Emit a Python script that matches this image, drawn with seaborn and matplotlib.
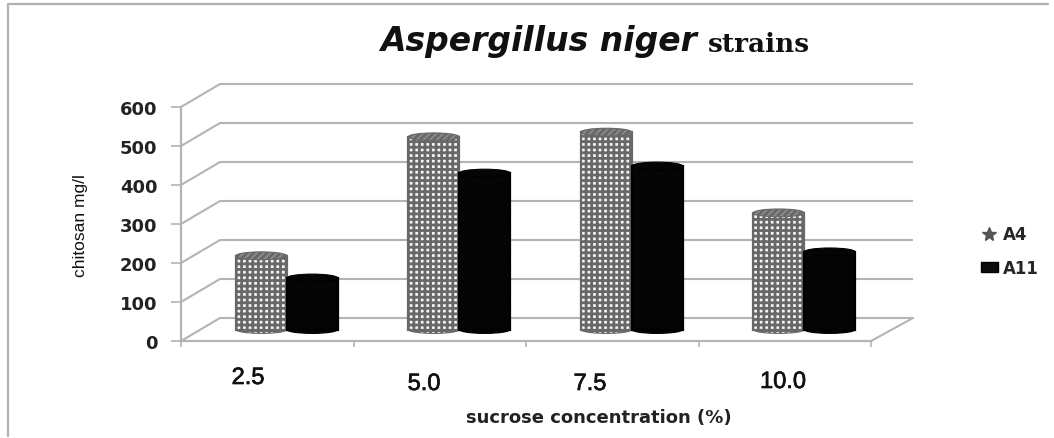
import pandas as pd
import matplotlib
matplotlib.use('Agg')
import matplotlib.pyplot as plt
import matplotlib.patheffects as pe
import seaborn as sns
from matplotlib.lines import Line2D
from matplotlib.patches import Ellipse
from matplotlib.transforms import Affine2D

categories = ['2.5', '5.0', '7.5', '10.0']
a4_values = [189, 494, 506, 299]
a11_values = [132, 401, 419, 199]
y_ticks = [0, 100, 200, 300, 400, 500, 600]

W, H = 1054, 439
# chart box in pixels, front plane
left, right, y0, y600 = 181, 871, 342, 108
depth_x, depth_y = 39, 23
grid_color = '#b4b4b4'
text_color = '#222222'

df = pd.DataFrame({
    'conc': categories * 2,
    'chitosan': a4_values + a11_values,
    'strain': ['A4'] * 4 + ['A11'] * 4,
})

sns.set_style('white')
plt.rcParams['hatch.linewidth'] = 2.0
fig = plt.figure(figsize=(W / 100, H / 100), dpi=100)
ax = fig.add_axes([left / W, 1 - y0 / H, (right - left) / W, (y0 - y600) / H])

sns.barplot(data=df, x='conc', y='chitosan', hue='strain', hue_order=['A4', 'A11'],
            palette=['white', '#0c0c0c'], width=0.59, gap=0, errorbar=None, ax=ax, zorder=3)
ax.set_xlim(-0.5, 3.5)
ax.set_ylim(0, 600)

# back wall and side wall lines
back = ax.transData + Affine2D().translate(depth_x, depth_y)
ax.hlines(y_ticks, -0.5, 3.52, colors=grid_color, lw=1.5, transform=back, clip_on=False, zorder=1)
to_px = ax.transData
for v in y_ticks:
    x1, y1 = to_px.transform((-0.5, v))
    ax.plot([x1, x1 + depth_x], [y1, y1 + depth_y], color=grid_color, lw=1.5,
            transform=None, clip_on=False, zorder=1)
x1, y1 = to_px.transform((3.5, 0))
ax.plot([x1, x1 + depth_x + 3], [y1, y1 + depth_y], color=grid_color, lw=1.5,
        transform=None, clip_on=False, zorder=1)

# cylinders sit half way into the floor
mid = ax.transData + Affine2D().translate(depth_x / 2, depth_y / 2)
cap_h = 20
styles = [('#f4f4f4', '#686868', '+++'), ('#0c0c0c', '#000000', '.....')]
for container, (fc, ec, hatch) in zip(ax.containers, styles):
    for bar in container:
        bar.set(transform=mid, facecolor=fc, edgecolor=ec, hatch=hatch, lw=1.6, clip_on=False)
        cx = bar.get_x() + bar.get_width() / 2
        base = Ellipse((cx, 0), bar.get_width(), cap_h, transform=mid, facecolor=fc,
                       edgecolor=ec, hatch=hatch, lw=0.8, zorder=2.9, clip_on=False)
        top = Ellipse((cx, bar.get_height()), bar.get_width(), cap_h, transform=mid,
                      facecolor='#8a8a8a' if fc != '#0c0c0c' else '#050505',
                      edgecolor=ec, hatch='/////' if fc != '#0c0c0c' else None,
                      lw=0.8, zorder=3.1, clip_on=False)
        ax.add_patch(base)
        ax.add_patch(top)

for s in ['top', 'right']:
    ax.spines[s].set_visible(False)
for s in ['left', 'bottom']:
    ax.spines[s].set_color(grid_color)
    ax.spines[s].set_linewidth(1.6)

ax.set_yticks(y_ticks)
ax.set_yticklabels(y_ticks, fontfamily='DejaVu Sans', fontweight='bold', fontsize=13, color=text_color)
ax.set_xticks([-0.5, 0.5, 1.5, 2.5, 3.5])
ax.set_xticklabels([])
ax.tick_params(axis='y', left=True, length=7, width=1.2, color=grid_color, pad=10)
ax.tick_params(axis='x', bottom=True, length=4, width=1.2, color=grid_color)
ax.set_xlabel('')
ax.set_ylabel('')

# category labels were placed by hand in the original
label_x = [248, 424, 590, 783]
label_y = [379, 385, 385, 383]
for c, lx, ly in zip(categories, label_x, label_y):
    fig.text(lx / W, 1 - ly / H, c, ha='center', va='center',
             family='Liberation Sans', fontsize=17, color='#111111',
             path_effects=[pe.withStroke(linewidth=0.5, foreground='#111111')])

fig.text(599 / W, 1 - 418 / H, 'sucrose concentration (%)', ha='center', va='center',
         family='DejaVu Sans', fontweight='bold', fontsize=13, color=text_color)
fig.text(81 / W, 1 - 226 / H, 'chitosan mg/l', rotation=90, ha='center', va='center',
         family='Liberation Sans', fontsize=12.5, color='#111111')
fig.text(380 / W, 1 - 41 / H, 'Aspergillus niger', ha='left', va='center', style='italic',
         fontweight='bold', family='DejaVu Sans', fontsize=23.8, color='#111111')
fig.text(708 / W, 1 - 45 / H, 'strains', ha='left', va='center', fontweight='bold',
         family='DejaVu Serif', fontsize=19, color='#111111')

handles, labels = ax.get_legend_handles_labels()
handles[0] = Line2D([], [], marker='*', linestyle='none', color='#555555', markersize=10)
handles[1].set(facecolor='#0c0c0c', edgecolor='#000000')
ax.legend(handles, labels, loc='center left', frameon=False, handlelength=1, handleheight=0.6,
          handletextpad=0.3, labelspacing=0.92, bbox_to_anchor=(966 / W, 1 - 252 / H),
          bbox_transform=fig.transFigure, prop={'family': 'DejaVu Sans', 'weight': 'bold', 'size': 12})

# border of the picture, only the top and left edges are drawn
fig.add_artist(Line2D([8 / W, 8 / W, 1048 / W], [1 - 437 / H, 1 - 5 / H, 1 - 5 / H],
                      color='#b0b0b0', lw=1.6, transform=fig.transFigure))

fig.savefig('out.png', dpi=100)
